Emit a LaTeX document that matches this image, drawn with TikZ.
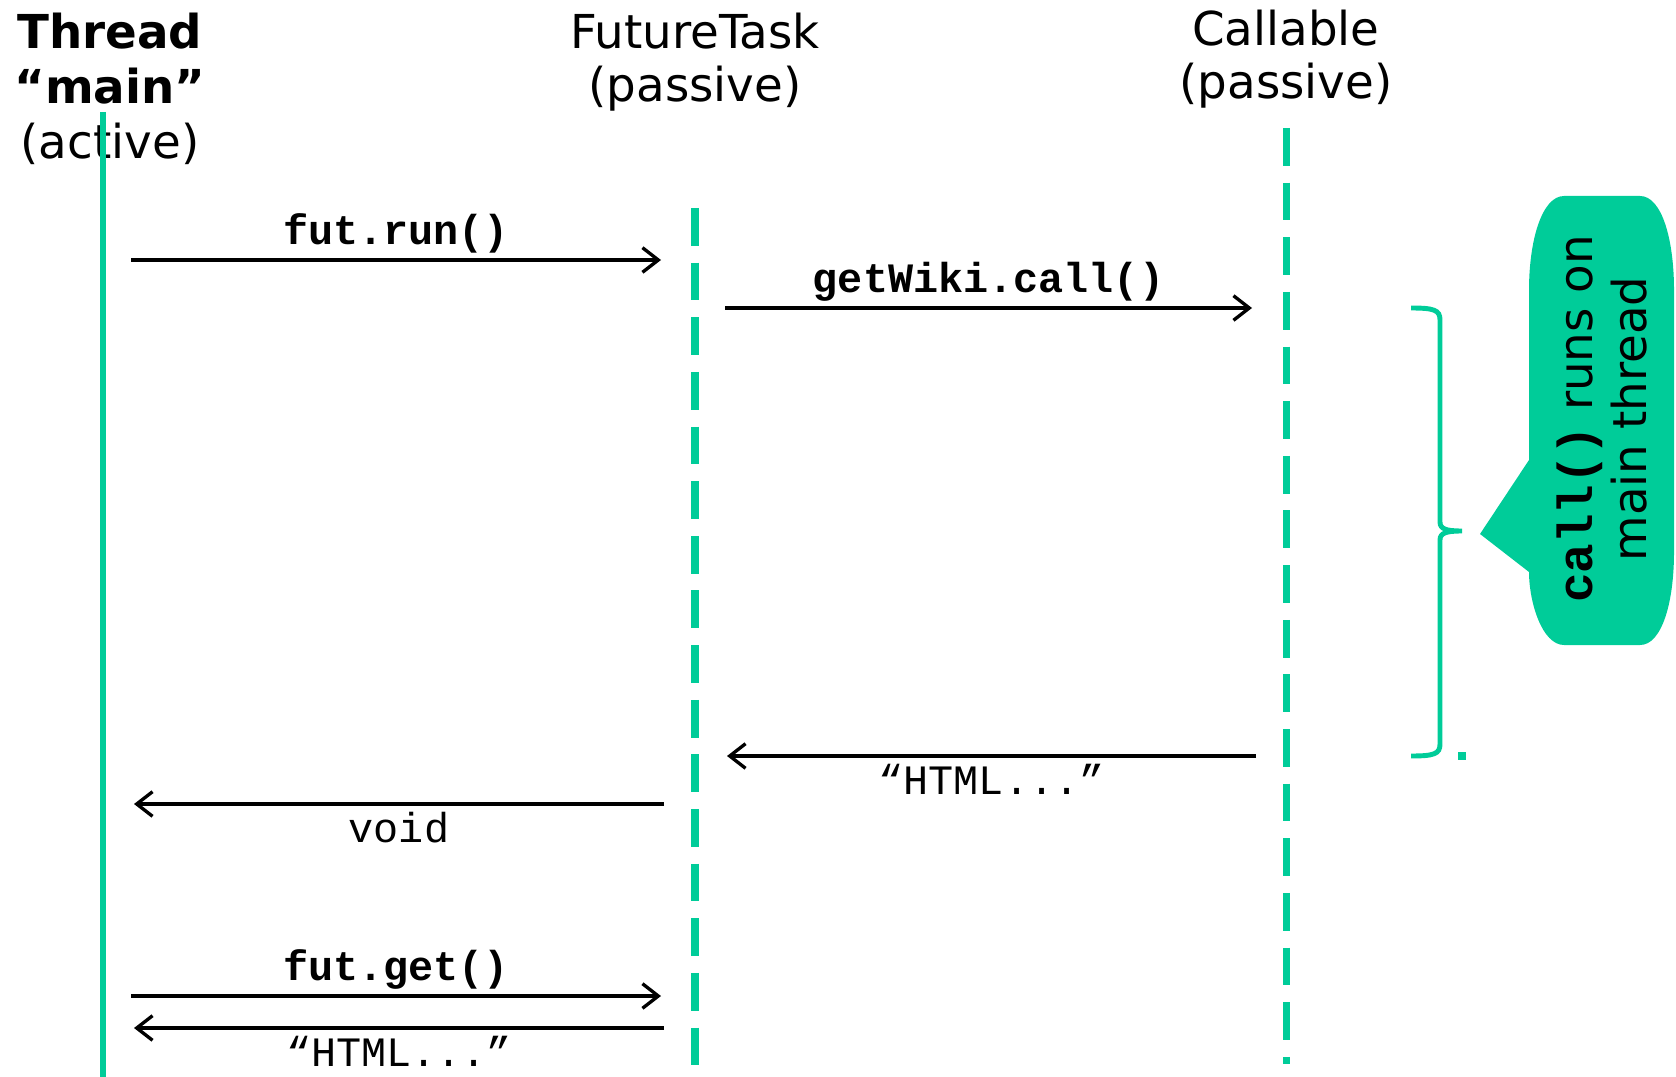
\documentclass[tikz,border=0pt]{standalone}
\usepackage{fontspec}
\setmainfont{DejaVu Sans}
\setmonofont{Liberation Mono}
\usetikzlibrary{arrows.meta}
\definecolor{lifegreen}{RGB}{0,204,153}

\tikzset{
  head/.style={align=center, anchor=base, inner sep=0pt, font=\fontsize{26.6}{30.5}\selectfont},
  lifeline/.style={lifegreen, line width=4pt, dash pattern=on 21.5pt off 9.6pt},
  msg/.style={line width=1.9pt, -{Straight Barb[length=9pt,width=14pt,line width=1.9pt]}},
  calllabel/.style={midway, anchor=base, inner sep=0pt, yshift=9pt, font=\fontsize{23.8}{26}\selectfont\ttfamily\bfseries},
  replylabel/.style={midway, anchor=base, inner sep=0pt, yshift=-22pt, font=\fontsize{23.8}{26}\selectfont\ttfamily},
}

\begin{document}
\begin{tikzpicture}[x=0.02cm,y=-0.02cm]
\useasboundingbox (0,0) rectangle (1676,1077);

% headers (anchored on the last line)
\node[head, font=\fontsize{26.6}{31.5}\selectfont] (mainhd) at (110,159) {\textbf{Thread}\\\textbf{“main”}\\(active)};
\node[head] (taskhd) at (695,102) {FutureTask\\(passive)};
\node[head] (callhd) at (1286,99) {Callable\\(passive)};

% lifelines
\coordinate (maintop) at (103,112);  \coordinate (mainbot) at (103,1077);
\coordinate (tasktop) at (695,208);  \coordinate (taskbot) at (695,1100);
\coordinate (calltop) at (1286,128); \coordinate (callbot) at (1286,1064);
\draw[lifegreen, line width=3.4pt] (maintop) -- (mainbot);
\draw[lifeline] (tasktop) -- (taskbot);
\draw[lifeline] (calltop) -- (callbot);

% messages
\coordinate (run0) at (131,260);  \coordinate (run1) at (661,260);
\coordinate (wiki0) at (725,308); \coordinate (wiki1) at (1252,308);
\coordinate (html0) at (1256,756); \coordinate (html1) at (727,756);
\coordinate (void0) at (664,804); \coordinate (void1) at (134,804);
\coordinate (get0) at (131,996);  \coordinate (get1) at (661,996);
\coordinate (res0) at (664,1028); \coordinate (res1) at (134,1028);

\draw[msg] (run0) -- (run1) node[calllabel] {fut.run()};
\draw[msg] (wiki0) -- (wiki1) node[calllabel] {getWiki.call()};
\draw[msg] (html0) -- (html1) node[replylabel] {“HTML...”};
\draw[msg] (void0) -- (void1) node[replylabel] {void};
\draw[msg] (get0) -- (get1) node[calllabel] {fut.get()};
\draw[msg] (res0) -- (res1) node[replylabel] {“HTML...”};

% brace over the call
\draw[lifegreen, line width=2.8pt]
  (1411,308) .. controls (1434,308) and (1440,310) .. (1440,320)
  -- (1440,522) .. controls (1440,529) and (1446,531) .. (1462,531)
  (1462,531) .. controls (1446,531) and (1440,533) .. (1440,540)
  -- (1440,744) .. controls (1440,754) and (1434,756) .. (1411,756);
\fill[lifegreen] (1458,752) rectangle (1466,760);

% callout
\fill[lifegreen] (1564,196) -- (1640,196)
  .. controls (1662,196) and (1674,240) .. (1674,290) -- (1674,552)
  .. controls (1674,602) and (1662,645) .. (1640,645) -- (1564,645)
  .. controls (1542,645) and (1529,602) .. (1529,572)
  -- (1480,534) -- (1529,460) -- (1529,290)
  .. controls (1529,240) and (1542,196) .. (1564,196) -- cycle;
\node[rotate=90, align=center, inner sep=0pt, font=\fontsize{26.6}{31}\selectfont] (calltxt) at (1602,419)
  {{\fontsize{28}{31}\selectfont\ttfamily\bfseries call()} runs on\\main thread};
\end{tikzpicture}
\end{document}
